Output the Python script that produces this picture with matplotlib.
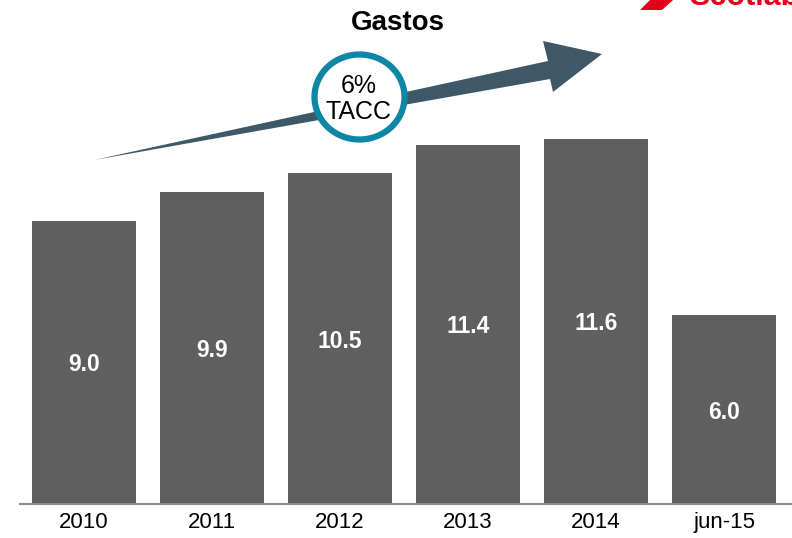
import numpy as np
import matplotlib
matplotlib.use("Agg")
import matplotlib.pyplot as plt
import matplotlib.patches as patch

plt.rcParams['font.family'] = ['Liberation Sans', 'DejaVu Sans']

# data
years = ['2010', '2011', '2012', '2013', '2014', 'jun-15']
gastos = [9.0, 9.9, 10.5, 11.4, 11.6, 6.0]
title = 'Gastos'
tacc_label = '6%\nTACC'

W, H = 792, 538
fig = plt.figure(figsize=(W / 100, H / 100), dpi=100)


def fx(px):
    return px / W


def fy(py):
    return 1 - py / H


ax = fig.add_axes([fx(20), 34 / H, fx(772), 504 / H])
x = np.arange(len(years))
bars = ax.bar(x, gastos, width=0.81, color='#5f5f5f', zorder=2)
for b, v in zip(bars, gastos):
    ax.text(b.get_x() + b.get_width() / 2, v / 2 - 0.08, '%.1f' % v, ha='center', va='center',
            color='white', fontsize=16.5, fontweight='bold')

ax.set_xlim(-0.5, 5.53)
ax.set_ylim(0, 16)
ax.set_xticks(x)
ax.set_xticklabels(years, fontsize=16)
ax.tick_params(axis='x', length=0, pad=6)
ax.set_yticks([])
for s in ['top', 'right', 'left']:
    ax.spines[s].set_visible(False)
ax.spines['bottom'].set_color('#8c8c8c')
ax.spines['bottom'].set_linewidth(1.5)

fig.text(fx(398), fy(23), title, ha='center', va='center', fontsize=20, fontweight='bold')

# growth arrow (pixel outline, converted to figure fraction)
arrow_px = [(94, 160), (548, 61), (543, 41), (602, 54), (553, 92), (550, 79)]
arrow = patch.Polygon([(fx(a), fy(b)) for a, b in arrow_px], closed=True,
                      transform=fig.transFigure, facecolor='#3f5868', edgecolor='none', zorder=3)
fig.patches.append(arrow)

circ = patch.Ellipse((fx(359.5), fy(97)), fx(90), 85 / H, transform=fig.transFigure,
                     facecolor='white', edgecolor='#0f86a6', linewidth=4.5, zorder=4)
fig.patches.append(circ)
fig.text(fx(359), fy(99), tacc_label, ha='center', va='center', fontsize=18,
         linespacing=1.1, zorder=5)

# logo fragment at top right (cut off by the frame)
swoosh = patch.Polygon([(fx(640), fy(10)), (fx(650), fy(0)), (fx(673), fy(0)), (fx(662), fy(10))],
                       closed=True, transform=fig.transFigure, facecolor='#e2001a',
                       edgecolor='none')
fig.patches.append(swoosh)
fig.text(fx(689), fy(5), 'Scotiabank', ha='left', va='baseline', fontsize=22,
         fontweight='bold', color='#e2001a')

fig.savefig('out.png', dpi=100)
